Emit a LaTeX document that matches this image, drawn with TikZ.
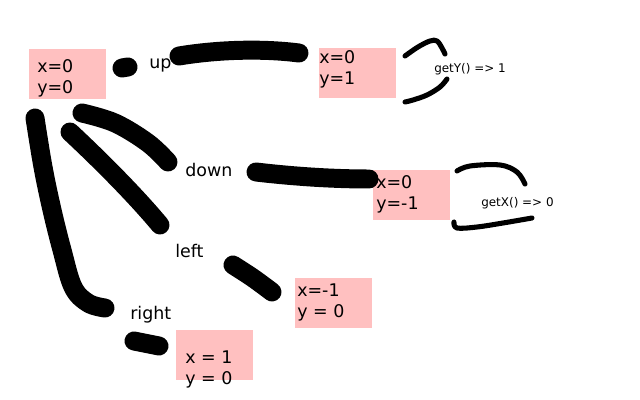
\documentclass[tikz,border=0pt]{standalone}
\usepackage{fontspec}
\setmainfont{DejaVu Sans}
\usepackage{tikz}
\definecolor{cellPink}{HTML}{FFC0C0}
\tikzset{
  cell/.style={rectangle, fill=cellPink, anchor=north west, inner sep=0pt, minimum width=1.925cm, minimum height=1.25cm},
  celltext/.style={anchor=base west, inner sep=0pt, align=left, font=\fontsize{12.4}{15.5}\selectfont},
  movelbl/.style={anchor=base west, inner sep=0pt, font=\fontsize{12.4}{15}\selectfont},
  getlbl/.style={anchor=base west, inner sep=0pt, font=\fontsize{8.5}{10}\selectfont},
  scribble/.style={line width=13.5pt, line cap=round, line join=round},
  bracket/.style={line width=3.6pt, line cap=round, line join=round}
}

\begin{document}
\begin{tikzpicture}[x=0.025cm, y=-0.025cm]
  \useasboundingbox (0,0) rectangle (640,400);

  % position cells
  \node[cell] (origin) at (29,49) {};
  \node[cell] (upCell) at (319,48) {};
  \node[cell] (downCell) at (373,170) {};
  \node[cell] (leftCell) at (295,278) {};
  \node[cell] (rightCell) at (176,330) {};

  % base anchor sits on the last line
  \node[celltext] (originTxt) at (37,94) {x=0\\y=0};
  \node[celltext] (upTxt) at (319,85) {x=0\\y=1};
  \node[celltext] (downTxt) at (376,210) {x=0\\y=-1};
  \node[celltext] (leftTxt) at (297,318) {x=-1\\y = 0};
  \node[celltext] (rightTxt) at (185,385) {x = 1\\y = 0};

  % moves
  \node[movelbl] (upLbl) at (149,69) {up};
  \node[movelbl] (downLbl) at (185,177) {down};
  \node[movelbl] (leftLbl) at (175,258) {left};
  \node[movelbl] (rightLbl) at (130,320) {right};

  \node[getlbl] (getYLbl) at (434,73) {getY() => 1};
  \node[getlbl] (getXLbl) at (481,207) {getX() => 0};

  % hand drawn strokes
  \draw[scribble] (122,68) -- (128,67);
  \draw[scribble] (179,56) .. controls (215,50) and (260,48) .. (299,53);
  \draw[scribble] (256,172) .. controls (290,176) and (330,179) .. (369,179);
  \draw[scribble] plot[smooth, tension=0.6] coordinates {(82,113) (115,123) (148,143) (168,162)};
  \draw[scribble] (70,132) .. controls (100,160) and (135,195) .. (160,225);
  \draw[scribble] plot[smooth, tension=0.6] coordinates {(35,118) (43,167) (52,210) (62,250) (73,287) (88,303) (105,308)};
  \draw[scribble] plot[smooth, tension=0.6] coordinates {(233,265) (253,278) (272,292)};
  \draw[scribble] (134,341) -- (159,346);

  \draw[bracket] plot[smooth, tension=0.6] coordinates {(405,56) (418,47) (430,41) (437,41) (442,48) (445,54)};
  \draw[bracket] plot[smooth, tension=0.6] coordinates {(447,79) (440,87) (427,95) (413,100) (405,102)};
  \draw[bracket] plot[smooth, tension=0.6] coordinates {(457,171) (470,166) (500,165) (517,172) (525,184)};
  \draw[bracket] plot[smooth, tension=0.6] coordinates {(454,222) (457,228) (477,227) (503,223) (532,218)};
\end{tikzpicture}
\end{document}
